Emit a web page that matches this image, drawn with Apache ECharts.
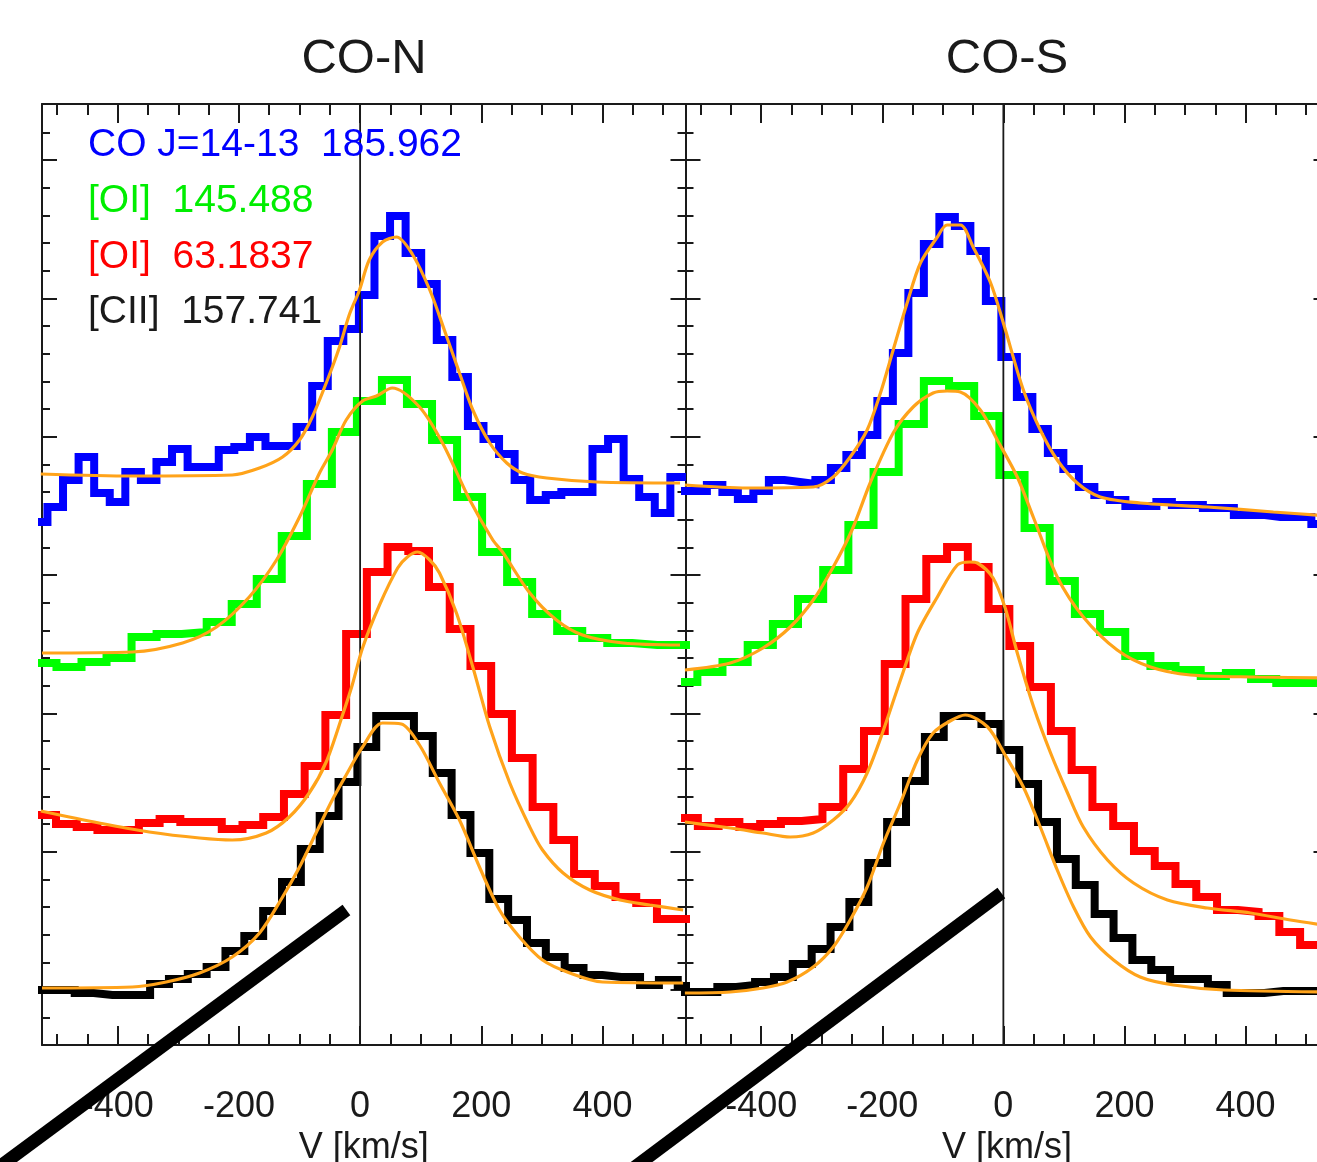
<!DOCTYPE html>
<html><head><meta charset="utf-8">
<script src="https://cdn.jsdelivr.net/npm/echarts@6/dist/echarts.min.js"></script>
<style>html,body{margin:0;padding:0;background:#fff}#c{width:1317px;height:1162px}</style>
</head><body><div id="c"></div>
<script>
// ---------------- axis / tick definitions ----------------
const xTickLabels = [-400, -200, 0, 200, 400];
const xMajorTicks = [-400, -200, 0, 200, 400];
const xMinorTicks = [-500,-450,-400,-350,-300,-250,-200,-150,-100,-50,0,50,100,150,200,250,300,350,400,450,500];
const yMajorTicks = [55, 193.3, 331.6, 469.9, 608.2, 746.5, 884.8];
const yMinorTicks = [27.3,55,82.7,110.3,138,165.6,193.3,221,248.6,276.3,303.9,331.6,359.3,386.9,414.6,442.2,469.9,497.6,525.2,552.9,580.5,608.2,635.9,663.5,691.2,718.8,746.5,774.2,801.8,829.5,857.1,884.8,912.5];
const panelTitles = ['CO-N', 'CO-S'];
const legendLines = ['CO J=14-13  185.962', '[OI]  145.488', '[OI]  63.1837', '[CII]  157.741'];

// ---------------- CO-N (left) : binned spectra (bin edges km/s, flux offset units) ----------------
const nCOedges = [-541.7,-516,-490.3,-464.6,-438.9,-413.2,-387.5,-361.8,-336.1,-310.4,-284.7,-259,-233.3,-207.6,-181.9,-156.2,-130.5,-104.8,-79.1,-53.4,-27.7,-2,23.7,49.4,75.1,100.8,126.5,152.2,177.9,203.6,229.3,255,280.7,306.4,332.1,357.8,383.5,409.2,434.9,460.6,486.3,512,537.7];
const nCOflux  = [523,538,565,588,552,543,573,565,583,596,578,578,595,598,608,599,599,618,659,704,716,750,809,829,792,761,705,668,619,606,591,565,545,550,553,553,596,606,566,548,532,568];
const nO145edges = [-542.5,-501.1,-459.8,-418.5,-377.2,-335.9,-294.5,-253.2,-211.9,-170.6,-129.3,-87.9,-46.6,-5.3,36,77.3,118.7,160,201.3,242.6,283.9,325.2,366.6,407.9,449.2,490.5,531.8,573.1];
const nO145flux  = [382,378,383,387,408,411,413,423,441,466,509,561,613,644,665,641,605,548,493,463,431,414,407,402,400,400,400];
const nO63edges = [-536.1,-501.9,-467.7,-433.5,-399.3,-365.1,-330.9,-296.7,-262.5,-228.3,-194.1,-159.9,-125.7,-91.5,-57.3,-23.1,11.1,45.3,79.5,113.7,147.9,182.1,216.3,250.5,284.7,318.9,353.1,387.3,421.5,455.7,489.9,524.1,558.3];
const nO63flux  = [230,221,218,215,215,222,226,223,223,216,220,228,251,279,330,411,473,498,494,458,416,379,331,287,238,205,171,159,148,142,126,126];
const nCIIedges = [-533.2,-502.1,-471,-439.9,-408.8,-377.7,-346.6,-315.5,-284.4,-253.3,-222.2,-191.1,-160,-128.9,-97.8,-66.7,-35.6,-4.5,26.6,57.7,88.8,119.9,151,182.1,213.2,244.3,275.4,306.5,337.6,368.7,399.8,430.9,462,493.1,524.2,555.3];
const nCIIflux  = [55,55,52,50,50,50,61,66,71,78,94,109,134,163,196,229,263,298,329,329,309,272,230,192,146,125,102,88,77,70,68,68,60,65,59];

// CO-N fits (velocity km/s, flux)
const nCOfitV = [-527,-376,-211,-166,-128,-100,-79,-54,-34,-18,-1,15,37,60,86,115,139,164,186,214,242,268,308,391,528];
const nCOfitF = [571,569,570,577,588,605,628,665,698,730,755,785,803,808,791,755,715,672,635,602,582,572,567,563,562];
const nO145fitV = [-525,-376,-293,-237,-183,-138,-100,-67,-46,-23,4,27,53,98,136,181,219,235,280,324,367,434,528];
const nO145fitF = [392,393,402,418,448,485,528,572,595,625,644,649,657,638,602,545,505,493,452,425,410,402,400];
const nO63fitV = [-527,-431,-348,-265,-211,-155,-117,-84,-56,-29,-13,4,32,62,78,95,115,131,159,186,214,247,280,301,335,379,429,478,533];
const nO63fitF = [234,222,213,207,205,212,228,252,283,330,360,397,440,477,488,493,485,472,432,378,318,262,218,195,172,155,145,140,135];
const nCIIfitV = [-525,-376,-320,-265,-211,-166,-128,-100,-72,-46,-23,4,37,68,98,131,164,197,230,263,301,346,400,533];
const nCIIfitF = [57,58,63,72,88,112,148,178,213,245,270,298,322,321,300,262,225,178,135,108,85,72,63,62];

// ---------------- CO-S (right) ----------------
const sCOedges = [-540.9,-515.3,-489.7,-464.1,-438.5,-412.9,-387.3,-361.7,-336.1,-310.5,-284.9,-259.3,-233.7,-208.1,-182.5,-156.9,-131.3,-105.7,-80.1,-54.5,-28.9,-3.3,22.3,47.9,73.5,99.1,124.7,150.3,175.9,201.5,227.1,252.7,278.3,303.9,329.5,355.1,380.7,406.3,431.9,457.5,483.1,508.7,534.3];
const sCOflux  = [554,554,560,553,546,554,565,563,561,565,577,590,610,644,692,752,801,828,819,794,744,688,648,616,592,576,558,550,545,539,539,543,540,540,537,537,530,530,528,528,528,521];
const sO145edges = [-547,-505.4,-463.9,-422.3,-380.7,-339.2,-297.6,-256,-214.4,-172.9,-131.3,-89.7,-48.2,-6.6,35,76.5,118.1,159.7,201.3,242.9,284.4,326,367.5,409.1,450.7,492.2,533.8];
const sO145flux  = [363,373,383,400,421,446,475,520,573,621,664,659,629,570,517,464,431,413,389,379,375,369,372,366,362,362];
const sO63edges = [-538.9,-504.6,-470.3,-436,-401.7,-367.4,-333.1,-298.8,-264.5,-230.2,-195.9,-161.6,-127.3,-93,-58.7,-24.4,9.9,44.2,78.5,112.8,147.1,181.4,215.7,250,284.3,318.6,352.9,387.2,421.5,455.8,490.1,524.4,558.7];
const sO63flux  = [227,219,223,218,221,224,226,238,276,314,381,446,486,498,478,436,399,358,314,275,238,219,194,179,161,148,135,133,129,113,100,100];
const sCIIedges = [-534.7,-503.6,-472.4,-441.2,-410.1,-378.9,-347.8,-316.6,-285.4,-254.3,-223.1,-192,-160.8,-129.6,-98.5,-67.3,-36.2,-5,26.2,57.3,88.5,119.6,150.8,182,213.1,244.3,275.4,306.6,337.8,368.9,400.1,431.2,462.4,493.6,524.7,555.9];
const sCIIflux  = [53,53,58,60,63,68,81,96,118,143,182,223,264,308,329,329,321,295,261,223,186,160,131,107,85,75,66,66,60,52,52,54,54,54,54];

const sCOfitV = [-526,-423,-314,-281,-253,-225,-203,-182,-159,-137,-109,-93,-71,-50,-21,0,33,61,89,122,160,226,337,446,540];
const sCOfitF = [560,557,558,568,588,615,652,695,742,782,808,820,820,798,762,722,655,615,585,562,548,542,538,533,529];
const sO145fitV = [-526,-451,-397,-352,-314,-281,-250,-220,-182,-149,-116,-93,-71,-38,-10,23,50,89,132,188,243,309,420,540];
const sO145fitF = [375,382,397,418,445,478,515,562,612,638,652,654,653,635,605,568,527,468,428,395,378,370,368,367];
const sO63fitV = [-526,-451,-397,-352,-314,-281,-253,-225,-198,-170,-142,-109,-76,-55,-43,-17,3,23,50,78,106,132,172,215,271,337,408,474,540];
const sO63fitF = [223,217,212,208,212,225,242,272,315,365,412,448,480,483,482,467,437,392,338,292,252,218,185,162,145,137,132,125,119];
const sCIIfitV = [-526,-451,-397,-357,-314,-281,-253,-225,-198,-170,-142,-116,-88,-63,-26,3,33,61,89,116,144,182,226,281,364,540];
const sCIIfitF = [52,53,57,63,78,98,125,158,202,242,285,312,324,330,318,290,258,218,175,138,108,85,68,60,55,53];

// thick diagonal marker strokes (data coords of each panel)
const slashN = [[-22.6, 135], [-629, -137]];
const slashS = [[-3.3, 152], [-666, -148]];

// ---------------- build chart ----------------
const X_MIN = -525, X_MAX = 537, Y_MIN = 0, Y_MAX = 941;
const FONT = 'Liberation Sans';
const INK = '#1a1a1a';
const colors = ['#0000ff', '#00ff00', '#ff0000', '#000000'];
const FIT = '#ffa31a';

function stepData(edges, flux) {
  const d = flux.map((f, i) => [edges[i], f]);
  d.push([edges[flux.length], flux[flux.length - 1]]);
  return d;
}
function pairs(v, f) { return v.map((x, i) => [x, f[i]]); }

const grids = [
  {left: 42, top: 104, width: 643.5, height: 941, outerBoundsMode: 'none', containLabel: false},
  {left: 685.5, top: 104, width: 643, height: 941, outerBoundsMode: 'none', containLabel: false}
];

const xAxis = [], yAxis = [];
const tickLine = {color: INK, width: 2};
grids.forEach((g, gi) => {
  const bx = {type: 'value', gridIndex: gi, min: X_MIN, max: X_MAX, splitLine: {show: false}, axisLabel: {show: false}};
  xAxis.push(Object.assign({}, bx, {
    position: 'bottom',
    axisLine: {show: true, onZero: false, lineStyle: {color: INK, width: 2}},
    axisTick: {show: true, inside: true, length: 11, customValues: xMinorTicks, lineStyle: tickLine},
    axisLabel: {show: true, customValues: xTickLabels, margin: 44, fontSize: 36, fontFamily: FONT, color: INK},
    name: 'V [km/s]', nameLocation: 'middle', nameGap: 80,
    nameTextStyle: {fontSize: 36, fontFamily: FONT, color: INK}
  }));
  xAxis.push(Object.assign({}, bx, {position: 'bottom', axisLine: {show: false, onZero: false},
    axisTick: {show: true, inside: true, length: 19, customValues: xMajorTicks, lineStyle: tickLine}}));
  xAxis.push(Object.assign({}, bx, {position: 'top', axisLine: {show: true, onZero: false, lineStyle: {color: INK, width: 2}},
    axisTick: {show: true, inside: true, length: 11, customValues: xMinorTicks, lineStyle: tickLine}}));
  xAxis.push(Object.assign({}, bx, {position: 'top', axisLine: {show: false, onZero: false},
    axisTick: {show: true, inside: true, length: 19, customValues: xMajorTicks, lineStyle: tickLine}}));

  const by = {type: 'value', gridIndex: gi, min: Y_MIN, max: Y_MAX, splitLine: {show: false}, axisLabel: {show: false}};
  yAxis.push(Object.assign({}, by, {position: 'left', axisLine: {show: true, onZero: false, lineStyle: {color: INK, width: 2}},
    axisTick: {show: true, inside: true, length: 8, customValues: yMinorTicks, lineStyle: tickLine}}));
  yAxis.push(Object.assign({}, by, {position: 'left', axisLine: {show: false, onZero: false},
    axisTick: {show: true, inside: true, length: 15, customValues: yMajorTicks, lineStyle: tickLine}}));
  yAxis.push(Object.assign({}, by, {position: 'right', axisLine: {show: true, onZero: false, lineStyle: {color: INK, width: 2}},
    axisTick: {show: true, inside: true, length: 8, customValues: yMinorTicks, lineStyle: tickLine}}));
  yAxis.push(Object.assign({}, by, {position: 'right', axisLine: {show: false, onZero: false},
    axisTick: {show: true, inside: true, length: 15, customValues: yMajorTicks, lineStyle: tickLine}}));
});

const panels = [
  {steps: [[nCOedges, nCOflux], [nO145edges, nO145flux], [nO63edges, nO63flux], [nCIIedges, nCIIflux]],
   fits: [[nCOfitV, nCOfitF], [nO145fitV, nO145fitF], [nO63fitV, nO63fitF], [nCIIfitV, nCIIfitF]], slash: slashN},
  {steps: [[sCOedges, sCOflux], [sO145edges, sO145flux], [sO63edges, sO63flux], [sCIIedges, sCIIflux]],
   fits: [[sCOfitV, sCOfitF], [sO145fitV, sO145fitF], [sO63fitV, sO63fitF], [sCIIfitV, sCIIfitF]], slash: slashS}
];

const series = [];
panels.forEach((p, gi) => {
  const ax = {xAxisIndex: gi * 4, yAxisIndex: gi * 4};
  p.steps.forEach((s, i) => {
    series.push(Object.assign({type: 'line', step: 'end', symbol: 'none', silent: true, z: 2,
      data: stepData(s[0], s[1]), lineStyle: {color: colors[i], width: 8, join: 'miter', cap: 'butt'}}, ax));
  });
  series.push(Object.assign({type: 'line', symbol: 'none', silent: true, z: 3,
    data: [[0, Y_MIN], [0, Y_MAX]], lineStyle: {color: INK, width: 1.8}}, ax));
  p.fits.forEach((f) => {
    series.push(Object.assign({type: 'line', symbol: 'none', silent: true, smooth: 0.3, z: 4,
      data: pairs(f[0], f[1]), lineStyle: {color: FIT, width: 3.2}}, ax));
  });
});

const legendColors = ['#0000ff', '#00ee00', '#ff0000', INK];
const legendY = [145.5, 201.5, 257.5, 312.5];
const graphic = [];
legendLines.forEach((t, i) => graphic.push({type: 'text', x: 88, y: legendY[i], z: 10,
  style: {text: t, fill: legendColors[i], fontSize: 39, fontFamily: FONT, align: 'left', verticalAlign: 'middle'}}));
const titleX = [364, 1007];
panelTitles.forEach((t, i) => graphic.push({type: 'text', x: titleX[i], y: 59, z: 10,
  style: {text: t, fill: INK, fontSize: 49, fontFamily: FONT, align: 'center', verticalAlign: 'middle'}}));

const chart = echarts.init(document.getElementById('c'), null, {renderer: 'canvas', width: 1317, height: 1162});
chart.setOption({
  animation: false,
  backgroundColor: '#ffffff',
  grid: grids,
  xAxis: xAxis,
  yAxis: yAxis,
  series: series,
  graphic: graphic
});

// diagonal strokes: positioned through each panel's own scales
panels.forEach((p, gi) => {
  const finder = {xAxisIndex: gi * 4, yAxisIndex: gi * 4};
  const a = chart.convertToPixel(finder, p.slash[0]);
  const b = chart.convertToPixel(finder, p.slash[1]);
  graphic.push({type: 'line', z: 20, silent: true,
    shape: {x1: a[0], y1: a[1], x2: b[0], y2: b[1]},
    style: {stroke: '#000', lineWidth: 13, lineCap: 'butt'}});
});
chart.setOption({graphic: graphic});
</script>
</body></html>
